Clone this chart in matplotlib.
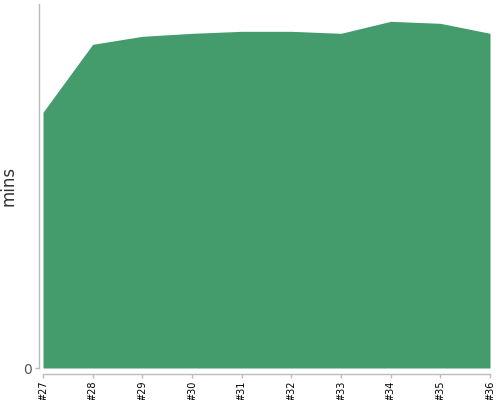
import matplotlib
matplotlib.use('Agg')
import matplotlib.pyplot as plt

builds = ['#27', '#28', '#29', '#30', '#31', '#32', '#33', '#34', '#35', '#36']
mins = [25.6, 32.4, 33.2, 33.5, 33.7, 33.7, 33.5, 34.7, 34.5, 33.5]

fig = plt.figure(figsize=(5, 4), dpi=100)
ax = fig.add_axes([0.086, 0.08, 0.894, 0.91])

x = list(range(len(builds)))
ax.fill_between(x, 0, mins, color='#449c6d', linewidth=0)

ax.set_xlim(0, len(builds) - 1)
ax.set_ylim(0, max(mins) * 1.05)

ax.set_xticks(x)
ax.set_xticklabels(builds)
ax.set_yticks([0])
ax.set_yticklabels(['0'])
ax.set_ylabel('mins', fontsize=12, color='#333333')
ax.yaxis.set_label_coords(-0.056, 0.5)

for s in ['top', 'right']:
    ax.spines[s].set_visible(False)
for s in ['left', 'bottom']:
    ax.spines[s].set_color('#bbbbbb')
    ax.spines[s].set_linewidth(1)
ax.spines['left'].set_position(('outward', 3))
ax.spines['bottom'].set_position(('outward', 4))
ax.tick_params(axis='both', color='#bbbbbb', length=3, width=1, pad=2)
ax.tick_params(axis='y', labelsize=10, labelcolor='#555555')
ax.tick_params(axis='x', labelrotation=90, labelsize=7, labelcolor='black', pad=2)

fig.savefig('out.png', dpi=100)
